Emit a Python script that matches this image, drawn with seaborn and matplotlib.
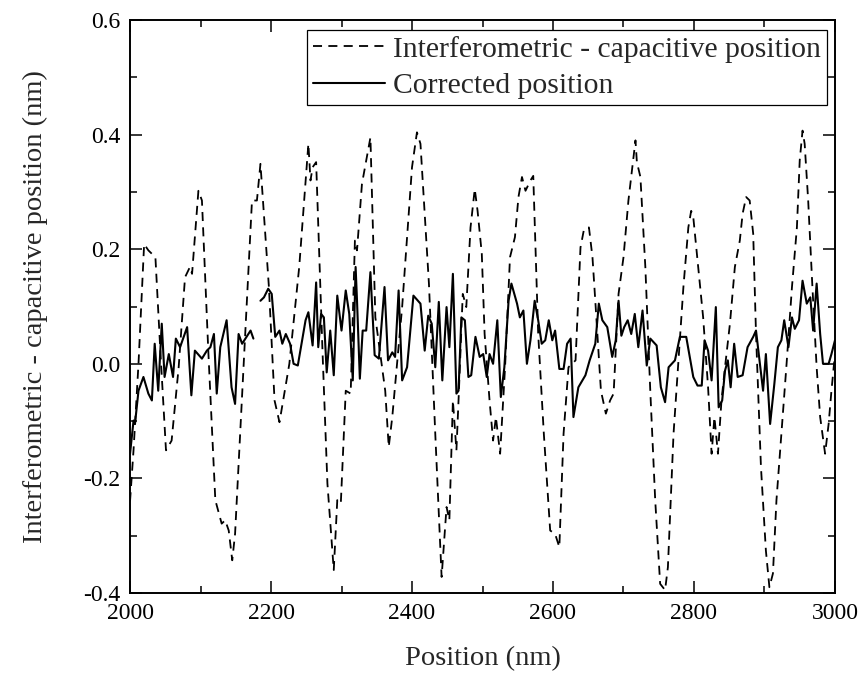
import numpy as np
import pandas as pd
import matplotlib
matplotlib.use("Agg")
import matplotlib.pyplot as plt
from matplotlib.ticker import MultipleLocator, FuncFormatter
from matplotlib.lines import Line2D
import seaborn as sns

# Interferometric - capacitive position (dashed)
interf_x = [2000, 2005, 2012, 2020, 2026, 2036, 2043, 2051, 2059, 2069, 2078, 2085, 2088, 2097, 2102,
            2111, 2121, 2130, 2135, 2140, 2145, 2149, 2161, 2173, 2180, 2185, 2197, 2205, 2212, 2226,
            2240, 2253, 2256, 2259, 2264, 2273, 2280, 2289, 2294, 2299, 2306, 2313, 2319, 2322, 2329,
            2341, 2348, 2355, 2362, 2367, 2372, 2386, 2400, 2407, 2412, 2424, 2433, 2442, 2449, 2453,
            2458, 2463, 2466, 2472, 2477, 2483, 2489, 2493, 2499, 2503, 2510, 2515, 2519, 2525, 2532,
            2539, 2546, 2551, 2556, 2561, 2568, 2572, 2579, 2587, 2596, 2603, 2609, 2615, 2622, 2632,
            2639, 2644, 2651, 2656, 2660, 2668, 2675, 2681, 2686, 2693, 2700, 2707, 2712, 2717, 2719,
            2724, 2731, 2738, 2745, 2752, 2759, 2763, 2771, 2778, 2785, 2792, 2796, 2799, 2806, 2813,
            2820, 2825, 2829, 2834, 2839, 2844, 2851, 2858, 2865, 2869, 2874, 2879, 2884, 2888, 2895,
            2902, 2907, 2912, 2917, 2924, 2931, 2939, 2946, 2950, 2954, 2957, 2962, 2968, 2974, 2979,
            2986, 2991, 2995, 3000]
interf_y = [-0.24, -0.15, 0.0, 0.209, 0.198, 0.186, 0.023, -0.151, -0.134, -0.006, 0.151, 0.169, 0.157, 0.302, 0.285,
            0.023, -0.238, -0.279, -0.273, -0.291, -0.343, -0.297, -0.006, 0.285, 0.285, 0.349, 0.134, -0.064, -0.102, 0.0,
            0.169, 0.384, 0.32, 0.343, 0.352, 0.023, -0.209, -0.36, -0.238, -0.244, -0.047, -0.052, 0.215, 0.198, 0.314,
            0.395, 0.081, 0.017, -0.047, -0.145, -0.093, 0.099, 0.343, 0.404, 0.384, 0.14, -0.122, -0.372, -0.25, -0.273,
            -0.064, -0.151, -0.064, 0.122, 0.099, 0.238, 0.305, 0.267, 0.192, 0.052, -0.064, -0.134, -0.093, -0.157, -0.006,
            0.186, 0.221, 0.291, 0.326, 0.302, 0.32, 0.328, 0.052, -0.122, -0.291, -0.297, -0.32, -0.122, -0.006, 0.006,
            0.203, 0.235, 0.238, 0.186, 0.11, -0.047, -0.087, -0.064, -0.052, 0.122, 0.186, 0.285, 0.337, 0.39, 0.352,
            0.326, 0.169, -0.047, -0.238, -0.384, -0.395, -0.355, -0.122, 0.006, 0.134, 0.238, 0.267, 0.256, 0.169, 0.081,
            -0.041, -0.157, -0.093, -0.157, -0.064, -0.006, 0.07, 0.169, 0.215, 0.262, 0.291, 0.285, 0.227, 0.052, -0.18,
            -0.326, -0.39, -0.366, -0.238, -0.122, -0.006, 0.134, 0.238, 0.355, 0.407, 0.384, 0.285, 0.134, -0.006, -0.093,
            -0.157, -0.105, -0.047, 0.017]

# Corrected position (solid), first segment (before the gap)
corr1_x = [2000, 2005, 2007, 2012, 2019, 2026, 2031, 2035, 2040, 2045, 2049, 2055, 2061, 2065, 2071,
           2081, 2087, 2092, 2102, 2109, 2114, 2119, 2123, 2128, 2137, 2144, 2149, 2154, 2159, 2171, 2175]
corr1_y = [-0.157, -0.099, -0.105, -0.047, -0.023, -0.052, -0.064, 0.035, -0.047, 0.07, -0.023, 0.017, -0.023, 0.044, 0.029,
           0.064, -0.055, 0.023, 0.009, 0.023, 0.029, 0.052, -0.052, 0.029, 0.076, -0.041, -0.07, 0.052, 0.035, 0.058, 0.044]

# Corrected position (solid), second segment (after the gap)
corr2_x = [2185, 2190, 2196, 2201, 2206, 2212, 2216, 2221, 2227, 2232, 2238, 2249, 2253, 2259, 2264,
           2267, 2271, 2275, 2279, 2284, 2289, 2294, 2300, 2306, 2311, 2316, 2320, 2322, 2326, 2330,
           2335, 2341, 2347, 2353, 2361, 2366, 2372, 2376, 2381, 2386, 2393, 2402, 2412, 2418, 2423,
           2428, 2433, 2438, 2443, 2449, 2453, 2458, 2463, 2466, 2470, 2475, 2480, 2484, 2490, 2496,
           2501, 2506, 2510, 2515, 2521, 2526, 2531, 2537, 2541, 2549, 2553, 2558, 2563, 2568, 2574,
           2579, 2584, 2589, 2594, 2599, 2603, 2609, 2615, 2620, 2625, 2629, 2636, 2646, 2652, 2660,
           2665, 2670, 2677, 2684, 2689, 2693, 2697, 2701, 2706, 2711, 2716, 2721, 2727, 2733, 2738,
           2747, 2753, 2759, 2764, 2773, 2780, 2789, 2799, 2805, 2811, 2815, 2820, 2825, 2831, 2835,
           2840, 2844, 2848, 2852, 2857, 2862, 2869, 2876, 2884, 2888, 2893, 2898, 2902, 2908, 2914,
           2919, 2924, 2928, 2934, 2939, 2943, 2949, 2954, 2960, 2965, 2969, 2974, 2979, 2983, 2991,
           2995, 3000]
corr2_y = [0.11, 0.116, 0.131, 0.122, 0.047, 0.058, 0.035, 0.052, 0.035, 0.0, -0.003, 0.076, 0.09, 0.032, 0.142,
           0.029, 0.087, 0.081, -0.015, 0.058, -0.02, 0.119, 0.058, 0.128, 0.087, -0.029, 0.169, 0.11, -0.026, 0.058,
           0.058, 0.16, 0.015, 0.009, 0.134, 0.006, 0.02, 0.012, 0.128, -0.029, -0.006, 0.119, 0.105, 0.023, 0.084,
           0.07, -0.006, 0.108, -0.029, 0.099, 0.029, 0.157, -0.052, -0.047, 0.081, 0.076, -0.023, -0.02, 0.047, 0.012,
           0.017, -0.023, 0.017, 0.0, 0.076, -0.058, -0.006, 0.11, 0.14, 0.105, 0.081, 0.093, 0.0, 0.041, 0.11,
           0.076, 0.035, 0.041, 0.076, 0.041, 0.058, -0.009, -0.009, 0.035, 0.044, -0.093, -0.041, -0.02, 0.006, 0.035,
           0.105, 0.076, 0.064, 0.012, 0.041, 0.11, 0.049, 0.064, 0.076, 0.052, 0.087, 0.029, 0.093, -0.003, 0.044,
           0.032, -0.041, -0.067, -0.006, 0.006, 0.047, 0.047, -0.023, -0.038, -0.038, 0.041, 0.023, -0.029, 0.099, -0.076,
           -0.064, -0.012, 0.006, -0.041, 0.035, -0.023, -0.02, 0.029, 0.047, 0.058, 0.006, -0.047, 0.017, -0.105, -0.035,
           0.029, 0.041, 0.076, 0.029, 0.081, 0.061, 0.076, 0.145, 0.105, 0.116, 0.058, 0.14, 0.052, 0.0, 0.0,
           0.017, 0.041]

x_ticks = [2000, 2200, 2400, 2600, 2800, 3000]
y_ticks = [-0.4, -0.2, 0.0, 0.2, 0.4, 0.6]
label_interf = "Interferometric - capacitive position"
label_corr = "Corrected position"

sns.set_theme(style="ticks")
plt.rcParams["font.family"] = ["Liberation Serif", "DejaVu Serif"]

fig = plt.figure(figsize=(8.64, 6.79), dpi=100)
ax = fig.add_axes([0.1505, 0.1267, 0.8159, 0.8438])

df_i = pd.DataFrame({"x": interf_x, "y": interf_y})
df_c1 = pd.DataFrame({"x": corr1_x, "y": corr1_y})
df_c2 = pd.DataFrame({"x": corr2_x, "y": corr2_y})

sns.lineplot(data=df_i, x="x", y="y", ax=ax, color="black", lw=1.3,
             sort=False, estimator=None, legend=False)
ax.lines[-1].set_dashes((5, 3.5))
sns.lineplot(data=df_c1, x="x", y="y", ax=ax, color="black", lw=1.5,
             sort=False, estimator=None, legend=False)
sns.lineplot(data=df_c2, x="x", y="y", ax=ax, color="black", lw=1.5,
             sort=False, estimator=None, legend=False)

ax.set_xlim(2000, 3000)
ax.set_ylim(-0.4, 0.6)
ax.set_xticks(x_ticks)
ax.set_yticks(y_ticks)
ax.xaxis.set_minor_locator(MultipleLocator(100))
ax.yaxis.set_minor_locator(MultipleLocator(0.1))
ax.yaxis.set_major_formatter(FuncFormatter(lambda v, p: f"{v:.1f}" if abs(v) > 1e-9 else "0.0"))

ax.tick_params(which="both", direction="in", top=True, right=True, colors="black",
               labelsize=17, width=1.1)
ax.tick_params(which="major", length=8.5, pad=7)
ax.tick_params(which="minor", length=5)
for s in ax.spines.values():
    s.set_linewidth(1.4)
    s.set_color("black")

ax.set_xlabel("Position (nm)", fontsize=20.5, labelpad=16)
ax.set_ylabel("Interferometric - capacitive position (nm)", fontsize=20.5, labelpad=25)

handles = [Line2D([], [], color="black", lw=1.3, dashes=(5, 3.5)),
           Line2D([], [], color="black", lw=1.5)]
leg = ax.legend(handles, [label_interf, label_corr], loc="upper right",
                bbox_to_anchor=(0.988, 0.983), borderaxespad=0, fontsize=21.3,
                frameon=True, fancybox=False, framealpha=1, edgecolor="black",
                handlelength=2.45, handletextpad=0.25, borderpad=0.2, labelspacing=0.34)
leg.get_frame().set_linewidth(0.9)

fig.savefig("out.png", dpi=100)
